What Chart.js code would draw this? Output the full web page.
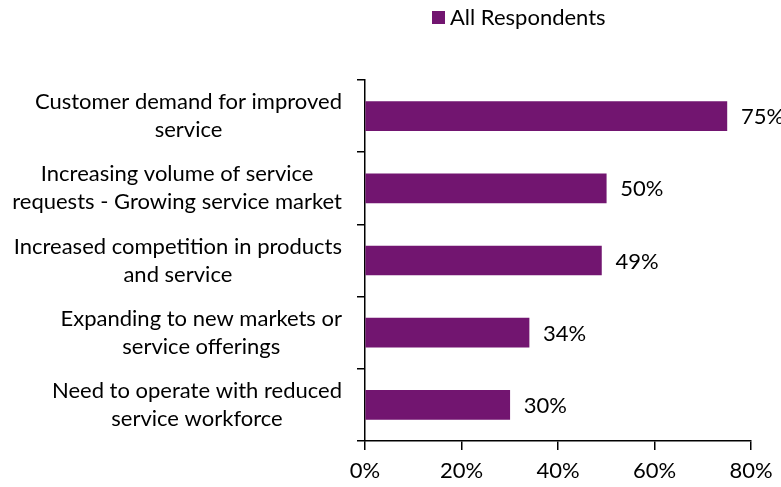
<!DOCTYPE html>
<html>
<head>
<meta charset="utf-8">
<script src="https://cdn.jsdelivr.net/npm/chart.js@4"></script>
<style>
  html, body { margin: 0; padding: 0; background: #fff; }
  #wrap { width: 781px; height: 487px; }
</style>
</head>
<body>
<div id="wrap"><canvas id="chart"></canvas></div>
<script>
// Categorias (rótulos em várias linhas) e valores da série.
const CATEGORIES = [
  ["Customer demand for improved", "service"],
  ["Increasing volume of service", "requests - Growing service market"],
  ["Increased competition in products", "and service"],
  ["Expanding to new markets or", "service offerings"],
  ["Need to operate with reduced", "service workforce"],
];
const VALUES = [75, 50, 49, 34, 30];
const SERIES_LABEL = "All Respondents";
const X_TICKS = [0, 20, 40, 60, 80];

const BAR_COLOR = "#721570";
const FONT = "Lato, 'Open Sans', sans-serif";
const FONT_SIZE = 22;
const LINE_H = 28;

// Rótulo de valor à direita de cada barra.
const valueLabels = {
  id: "valueLabels",
  afterDatasetsDraw(chart) {
    const { ctx } = chart;
    const meta = chart.getDatasetMeta(0);
    ctx.save();
    ctx.font = FONT_SIZE + "px " + FONT;
    ctx.fillStyle = "#000";
    ctx.textAlign = "left";
    ctx.textBaseline = "middle";
    meta.data.forEach((bar, i) => {
      ctx.fillText(VALUES[i] + "%", bar.x + 14, bar.y + 1);
    });
    ctx.restore();
  },
};

// Rótulos das categorias: linhas centradas entre si, bloco alinhado à direita.
const categoryLabels = {
  id: "categoryLabels",
  afterDraw(chart) {
    const { ctx } = chart;
    const y = chart.scales.y;
    const rightEdge = y.right - 23;
    ctx.save();
    ctx.font = FONT_SIZE + "px " + FONT;
    ctx.fillStyle = "#000";
    ctx.textAlign = "center";
    ctx.textBaseline = "middle";
    chart.data.labels.forEach((lines, i) => {
      const widest = Math.max(...lines.map((l) => ctx.measureText(l).width));
      const cx = rightEdge - widest / 2;
      const cy = y.getPixelForValue(i);
      const top = cy - ((lines.length - 1) * LINE_H) / 2;
      lines.forEach((l, k) => ctx.fillText(l, cx, top + k * LINE_H));
    });
    ctx.restore();
  },
};

// Legenda desenhada à mão, alinhada como no original.
const topLegend = {
  id: "topLegend",
  afterDraw(chart) {
    const { ctx } = chart;
    const ds = chart.data.datasets[0];
    ctx.save();
    ctx.fillStyle = ds.backgroundColor;
    ctx.fillRect(432, 11, 13, 13);
    ctx.font = FONT_SIZE + "px " + FONT;
    ctx.fillStyle = "#000";
    ctx.textAlign = "left";
    ctx.textBaseline = "middle";
    ctx.fillText(ds.label, 450, 18);
    ctx.restore();
  },
};

new Chart(document.getElementById("chart"), {
  type: "bar",
  data: {
    labels: CATEGORIES,
    datasets: [{
      label: SERIES_LABEL,
      data: VALUES,
      backgroundColor: BAR_COLOR,
      barThickness: 29,
    }],
  },
  options: {
    indexAxis: "y",
    responsive: true,
    maintainAspectRatio: false,
    animation: false,
    layout: { padding: { top: 80, right: 30, left: 0, bottom: 0 } },
    plugins: {
      legend: { display: false },
      tooltip: { enabled: false },
    },
    scales: {
      x: {
        min: 0,
        max: 80,
        afterBuildTicks: (scale) => {
          scale.ticks = X_TICKS.map((v) => ({ value: v }));
        },
        afterFit: (scale) => { scale.height = 46; },
        grid: { drawOnChartArea: false, tickLength: 9, color: "#000", lineWidth: 1.5 },
        border: { color: "#000", width: 1.5 },
        ticks: {
          padding: 8,
          color: "#000",
          font: { family: FONT, size: FONT_SIZE },
          callback: (v) => v + "%",
        },
      },
      y: {
        afterFit: (scale) => { scale.width = 365; },
        grid: { drawOnChartArea: false, offset: true, tickLength: 8, color: "#000", lineWidth: 1.5 },
        border: { color: "#000", width: 1.5 },
        ticks: { display: false },
      },
    },
  },
  plugins: [valueLabels, categoryLabels, topLegend],
});
</script>
</body>
</html>
